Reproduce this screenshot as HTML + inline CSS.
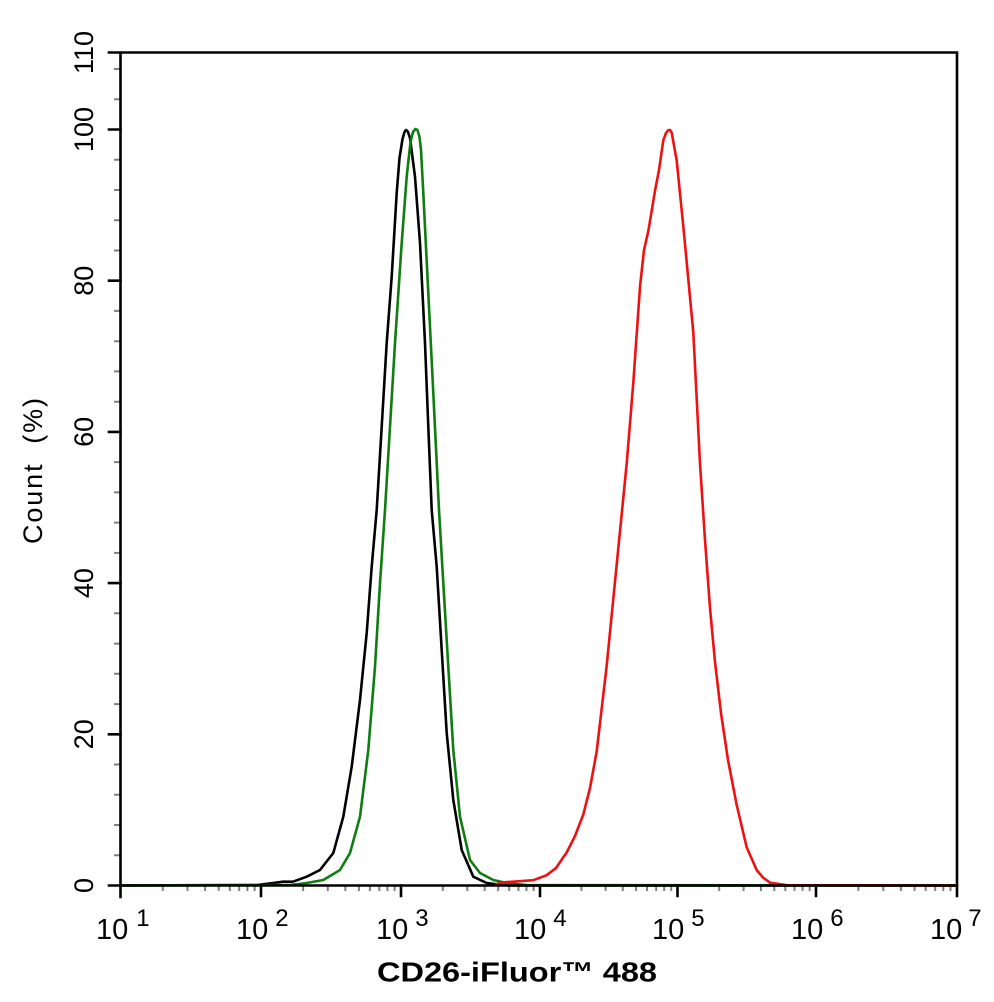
<!DOCTYPE html>
<html><head><meta charset="utf-8"><style>
html,body{margin:0;padding:0;background:#fff;}
svg{display:block;}
text{font-family:"Liberation Sans",Arial,sans-serif;fill:#000;}
</style></head><body>
<svg width="994" height="1002" viewBox="0 0 994 1002" xmlns="http://www.w3.org/2000/svg">
<rect width="994" height="1002" fill="#fff"/>
<!-- minor ticks -->
<g stroke="#808080" stroke-width="2" fill="none">
<path d="M162.8 885v6M187.5 885v6M205.1 885v6M218.7 885v6M229.8 885v6M239.2 885v6M247.4 885v6M254.6 885v6
M303.1 885v6M327.8 885v6M345.3 885v6M358.9 885v6M369.9 885v6M379.3 885v6M387.4 885v6M394.6 885v6
M442.8 885v6M467.3 885v6M484.7 885v6M498.2 885v6M509.2 885v6M518.5 885v6M526.5 885v6M533.6 885v6
M581.4 885v6M605.6 885v6M622.8 885v6M636.1 885v6M647 885v6M656.2 885v6M664.2 885v6M671.2 885v6
M719.2 885v6M743.6 885v6M760.9 885v6M774.3 885v6M785.3 885v6M794.5 885v6M802.6 885v6M809.7 885v6
M858.4 885v6M883.3 885v6M900.9 885v6M914.6 885v6M925.7 885v6M935.2 885v6M943.3 885v6M950.5 885v6"/>
<path d="M114 855.3h6M114 825h6M114 794.8h6M114 764.5h6M114 704.1h6M114 673.8h6M114 643.6h6M114 613.3h6M114 552.9h6M114 522.6h6M114 492.4h6M114 462.1h6M114 401.7h6M114 371.4h6M114 341.2h6M114 310.9h6M114 250.5h6M114 220.2h6M114 190h6M114 159.7h6M114 99.3h6M114 69h6"/>
</g>
<!-- curves -->
<g fill="none" stroke-width="2.6" stroke-linejoin="round" stroke-linecap="round">
<path stroke="#000" d="M120 885.5L256.7 885L273 883L283 881.7L293 881.7L306.7 876.7L320 870L333.3 853L343.3 816.7L351.7 766.7L360 700L366.7 633L371.7 566.7L376.7 510L381.7 426.7L386.7 343L391.7 276.7L396.7 193L399.5 158L402.5 139L404.5 132L406 130L407.8 131.5L410 138L415 176.7L420 243L425 343L428.3 426.7L431.7 510L436.7 566.7L441.7 650L446.7 733L453.3 800L461.7 850L473.3 876.7L486.7 883L506.7 885.5L957 885.5"/>
<path stroke="#0f7d0f" d="M120 885.5L290 885L306.7 883L323.3 880L340 870L350 853L360 816.7L368.3 750L375 666.7L380 583L385 510L390 426.7L395 343L401.7 243L406.7 176.7L410.5 142L413 132L415.5 129L417.5 130L419.5 137L421 150L423.3 193L428.3 293L433.3 393L439 510L443.3 583L448.3 666.7L453.3 750L460 816.7L470 860L480 873L493.3 880L506.7 883L526.7 885L957 885.5"/>
<path stroke="#ee1111" d="M495 885L500 882.7L515 881.5L533.3 880.2L546.7 875.2L556 868L566.7 852.4L575 836L583.3 814.5L590 788L596.7 751.4L606.7 665.6L616.7 564.5L626.7 463.5L633.3 382.7L640 286.8L644 250L648.3 231.2L655 190.8L659 170L663.3 140.3L666 133L668.3 130.2L670 130L671.7 132.7L676.7 160.5L683.3 226.2L693.3 332.2L700 463.5L705 540L710 608L715 662L721 713L728 760L736.7 805L746.7 847.4L756.7 870.1L763 877.5L770 882.7L786.7 885.2L957 885.5"/>
</g>
<!-- axes & frame -->
<g stroke="#000" stroke-width="2.6" fill="none" stroke-linecap="square">
<path d="M120.5 52.5V897M109 885.5H957M109 52.5H957M957 52.5V896"/>
<path d="M261 885.5V896M401 885.5V896M540 885.5V896M677.5 885.5V896M816 885.5V896"/>
<path d="M109 734.3H120.5M109 583.1H120.5M109 431.9H120.5M109 280.7H120.5M109 129.5H120.5"/>
</g>
<!-- y tick labels -->
<g font-size="27" text-anchor="middle">
<text transform="translate(93,885.5) rotate(-90)">0</text>
<text transform="translate(93,734.3) rotate(-90)">20</text>
<text transform="translate(93,583.1) rotate(-90)">40</text>
<text transform="translate(93,431.9) rotate(-90)">60</text>
<text transform="translate(93,280.7) rotate(-90)">80</text>
<text transform="translate(93,129.5) rotate(-90)">100</text>
<text transform="translate(93,52.5) rotate(-90)">110</text>
</g>
<!-- y title -->
<text transform="translate(42,544) rotate(-90)" font-size="27" textLength="146" lengthAdjust="spacing" xml:space="preserve">Count  (%)</text>
<!-- x tick labels -->
<g font-size="29">
<text x="96" y="939">10<tspan dx="8" dy="-13" font-size="24">1</tspan></text>
<text x="236" y="939">10<tspan dx="7" dy="-13" font-size="24">2</tspan></text>
<text x="376" y="939">10<tspan dx="7" dy="-13" font-size="24">3</tspan></text>
<text x="514" y="939">10<tspan dx="7" dy="-13" font-size="24">4</tspan></text>
<text x="652" y="939">10<tspan dx="7" dy="-13" font-size="24">5</tspan></text>
<text x="791" y="939">10<tspan dx="7" dy="-13" font-size="24">6</tspan></text>
<text x="930" y="939">10<tspan dx="6" dy="-13" font-size="24">7</tspan></text>
</g>
<!-- x title -->
<text x="377" y="981.5" font-size="28" font-weight="bold" textLength="280" lengthAdjust="spacingAndGlyphs">CD26-iFluor™ 488</text>
</svg>
</body></html>
